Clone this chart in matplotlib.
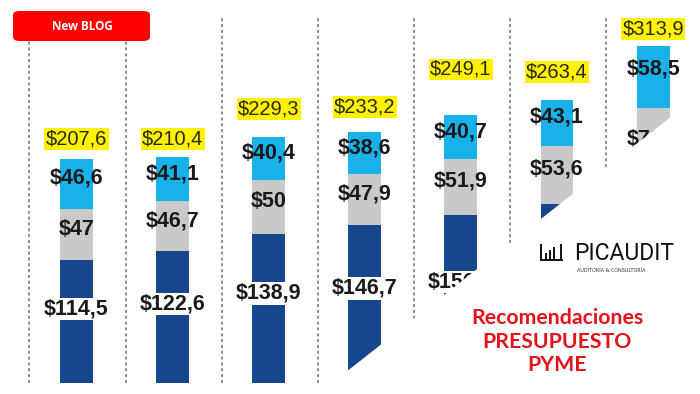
import matplotlib
matplotlib.use("Agg")
import matplotlib.pyplot as plt
from matplotlib.patches import FancyBboxPatch, Polygon
import numpy as np

# stacked budget values (billions), bottom -> top
years = ["1", "2", "3", "4", "5", "6", "7"]
seg_blue = [114.5, 122.6, 138.9, 146.7, 156.5, 166.7, 184.5]
seg_gray = [47.0, 46.7, 50.0, 47.9, 51.9, 53.6, 70.9]
seg_cyan = [46.6, 41.1, 40.4, 38.6, 40.7, 43.1, 58.5]
totals = [207.6, 210.4, 229.3, 233.2, 249.1, 263.4, 313.9]

# gap (points) between bar top and the yellow total label
total_gap = [15, 13, 20, 18, 33, 20, 12]

c_blue = "#17468c"
c_gray = "#c9c9c9"
c_cyan = "#18b1e9"
c_yel = "#fff200"


def fmt(v):
    s = "%.1f" % v
    if s.endswith(".0"):
        s = s[:-2]
    return "$" + s.replace(".", ",")


fig = plt.figure(figsize=(7, 3.94), dpi=100)
ax = fig.add_axes([0, 0, 1, 1])
ax.axis("off")
ax.set_xlim(-0.796, 6.488)
ax.set_ylim(-10.2, 356.3)

x = np.arange(len(years))
w = 0.343
blue = np.array(seg_blue)
gray = np.array(seg_gray)
cyan = np.array(seg_cyan)

# dashed separators
ax.vlines(x - 0.49, 0, 340, colors="#8f8f8f", linewidth=1.4,
          linestyles=(0, (1.6, 1.4)), zorder=1)

ax.bar(x, blue, w, color=c_blue, zorder=2)
ax.bar(x, gray, w, bottom=blue, color=c_gray, zorder=2)
ax.bar(x, cyan, w, bottom=blue + gray, color=c_cyan, zorder=2)

labels = []
lab_font = ["Liberation Sans", "DejaVu Sans"]
for i in range(len(years)):
    labels.append(ax.text(x[i], blue[i] * 0.6, fmt(blue[i]), ha="center", va="center",
                          fontsize=15.5, fontweight="bold", family=lab_font, color="#1a1a1a",
                          bbox=dict(facecolor="white", edgecolor="none", pad=0.5), zorder=3))
    labels.append(ax.text(x[i], blue[i] + gray[i] * 0.6, fmt(gray[i]), ha="center",
                          va="center", fontsize=15.5, fontweight="bold", family=lab_font,
                          color="#1a1a1a", zorder=3))
    labels.append(ax.text(x[i], blue[i] + gray[i] + cyan[i] * 0.62, fmt(cyan[i]),
                          ha="center", va="center", fontsize=15.5, fontweight="bold",
                          family=lab_font, color="#1a1a1a", zorder=3))
    ax.annotate(fmt(totals[i]), (x[i], totals[i]), xytext=(0, total_gap[i]),
                textcoords="offset points", ha="center", va="center",
                fontsize=14.5, family=lab_font, color="#2a2a10",
                bbox=dict(facecolor=c_yel, edgecolor="none", pad=1.0), zorder=3)

# page curl covering the lower right corner
curl = Polygon([(318 / 700, 0), (1, 1 - 94 / 394), (1, 0)], closed=True,
               transform=fig.transFigure, facecolor="white", edgecolor="none",
               zorder=5)
fig.patches.append(curl)

# labels that end up fully hidden under the curl are dropped
fig.canvas.draw()
curl_px = fig.transFigure.transform(curl.get_xy())
from matplotlib.path import Path
curl_path = Path(curl_px)
for t in labels:
    bb = t.get_window_extent()
    corners = [(bb.x0, bb.y0), (bb.x1, bb.y0), (bb.x0, bb.y1), (bb.x1, bb.y1)]
    if all(curl_path.contains_point(c) for c in corners):
        t.remove()

# "New BLOG" badge
badge = FancyBboxPatch((13 / 700, 1 - 41 / 394), 137 / 700, 30 / 394,
                       boxstyle="round,pad=0,rounding_size=0.01",
                       transform=fig.transFigure, facecolor="#ff0000",
                       edgecolor="none", zorder=6)
fig.patches.append(badge)
fig.text(82 / 700, 1 - 26 / 394, "New BLOG", ha="center", va="center",
         color="white", fontsize=8.5, fontweight="bold", family="Open Sans", zorder=7)


def px(xp, yp):
    return xp / 700, 1 - yp / 394


# logo
for (x0, y0, x1, y1) in [(541, 245, 541, 260), (541, 260, 562, 260), (561, 245, 561, 260),
                         (546, 254, 546, 260), (550, 251, 550, 260), (554, 248, 554, 260)]:
    a, b = px(x0, y0)
    c, d = px(x1, y1)
    fig.add_artist(plt.Line2D([a, c], [b, d], color="#111111", linewidth=1.4,
                              transform=fig.transFigure, zorder=7))
fig.text(*px(624, 260), "PICAUDIT", ha="center", va="baseline", fontsize=16.5,
         family="Roboto", color="#111111", zorder=7)
fig.text(*px(611, 270), "AUDITORÍA & CONSULTORÍA", ha="center", va="center",
         fontsize=3.5, family="DejaVu Sans", color="#333333", zorder=7)

# red caption
for txt, yp in [("Recomendaciones", 318), ("PRESUPUESTO", 342), ("PYME", 365)]:
    fig.text(*px(557, yp), txt, ha="center", va="center", fontsize=15.3,
             fontweight="bold", family="Lato", color="#e3121b", zorder=7)

fig.savefig("out.png", dpi=100)
